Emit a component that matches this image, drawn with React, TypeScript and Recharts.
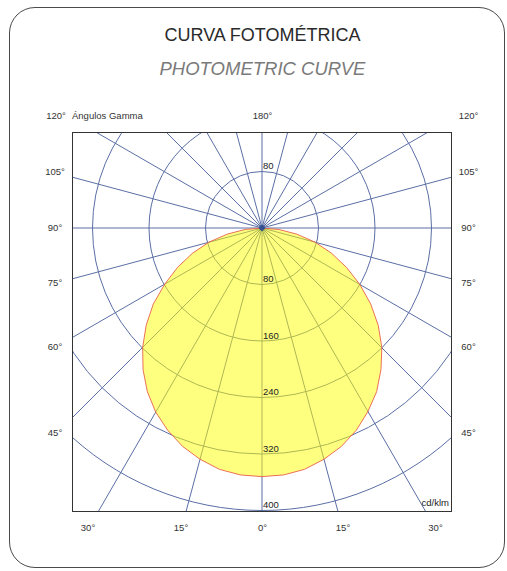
import { RadarChart, Radar, PolarGrid, PolarAngleAxis, PolarRadiusAxis } from "recharts";

// gamma angles (deg) and luminous intensity (cd/klm), C0 = right half, C180 = left half
const GAMMA = [0, 5, 10, 15, 20, 25, 30, 35, 40, 45, 50, 55, 60, 65, 70, 75, 80, 85, 90, 95, 100, 105, 110, 115, 120, 125, 130, 135, 140, 145, 150, 155, 160, 165, 170, 175, 180];
const C0 = [352, 351, 347, 339, 329, 316, 300, 283, 262, 240, 215, 188, 160, 132, 105, 78, 50, 24, 0, 0, 0, 0, 0, 0, 0, 0, 0, 0, 0, 0, 0, 0, 0, 0, 0, 0, 0];
const C180 = [352, 351, 347, 339, 329, 316, 301, 283, 262, 239, 214, 188, 159, 132, 105, 78, 50, 24, 0, 0, 0, 0, 0, 0, 0, 0, 0, 0, 0, 0, 0, 0, 0, 0, 0, 0, 0];

const RINGS = [80, 160, 240, 320, 400];
const SPOKES = [0, 15, 30, 45, 60, 75, 90, 105, 120, 135, 150, 165, 180, 195, 210, 225, 240, 255, 270, 285, 300, 315, 330, 345];
const SIDE_LABELS = ["120°", "105°", "90°", "75°", "60°", "45°"];
const BOTTOM_LABELS = ["30°", "15°", "0°", "15°", "30°"];
const TOP_LABEL = "180°";
const AXIS_TITLE = "Ángulos Gamma";
const UNIT = "cd/klm";

const R_MAX = 480;
const OUTER = 339; // px for R_MAX
const CX = 189;
const CY = 95;

// position on the circle, counter-clockwise from the bottom: C0 gamma g -> g, C180 gamma g -> 360 - g
const data = [
  ...GAMMA.map((g, i) => ({ pos: g, cd: C0[i] })),
  ...GAMMA.slice(1, -1).reverse().map((g) => ({ pos: 360 - g, cd: C180[GAMMA.indexOf(g)] })),
];

const FONT = '"Liberation Sans", Arial, sans-serif';
const GRID = "#5b6fa6";
const SIDE_Y = [116, 172, 228, 283, 347, 433];
const BOTTOM_X = [88, 181, 262.5, 343, 435.5];

const label = (x: number, y: number) => ({
  position: "absolute" as const,
  left: x,
  top: y,
  transform: "translate(-50%, -50%)",
  fontSize: 9.5,
  lineHeight: 1,
  color: "#333",
  whiteSpace: "nowrap" as const,
});

const RingTick = (props: any) => {
  const { x, y, payload } = props;
  const v = payload?.value;
  if (!RINGS.includes(v)) return <g />;
  return (
    <g>
      <text x={x + 1} y={y - 2.5} fontSize={9.5} fontFamily={FONT} fill="#222" textAnchor="start">{v}</text>
      {v === RINGS[0] && (
        <text x={x + 1} y={2 * CY - y - 2.5} fontSize={9.5} fontFamily={FONT} fill="#222" textAnchor="start">{v}</text>
      )}
    </g>
  );
};

const CenterDot = (props: any) => {
  const { cx, cy, index } = props;
  if (index !== GAMMA.length - 1) return <g key={index} />;
  return <polygon key={index} points={`${cx},${cy - 3.5} ${cx + 3.5},${cy} ${cx},${cy + 3.5} ${cx - 3.5},${cy}`} fill="#34508e" />;
};

export default function App() {
  return (
    <div style={{ position: "absolute", left: 0, top: 0, width: 507, height: 571, background: "#fff", fontFamily: FONT, overflow: "hidden" }}>
      <div style={{ position: "absolute", left: 9, top: 7, width: 496, height: 561, border: "1px solid #4a4a4a", borderRadius: 26, boxSizing: "border-box" }} />

      <div style={{ position: "absolute", left: 0, width: 525, top: 25, textAlign: "center", fontSize: 18, color: "#2a2a2a" }}>CURVA FOTOMÉTRICA</div>
      <div style={{ position: "absolute", left: 0, width: 525, top: 58, textAlign: "center", fontSize: 18.5, fontStyle: "italic", color: "#7a7a7a" }}>PHOTOMETRIC CURVE</div>

      <div style={{ ...label(72, 116), transform: "translate(0, -50%)" }}>{AXIS_TITLE}</div>
      <div style={label(262.5, 116)}>{TOP_LABEL}</div>
      {SIDE_LABELS.map((t, i) => (
        <div key={"l" + i} style={label(i === 0 ? 56 : 55, SIDE_Y[i])}>{t}</div>
      ))}
      {SIDE_LABELS.map((t, i) => (
        <div key={"r" + i} style={label(468.5, SIDE_Y[i])}>{t}</div>
      ))}
      {BOTTOM_LABELS.map((t, i) => (
        <div key={"b" + i} style={label(BOTTOM_X[i], 528)}>{t}</div>
      ))}

      <div style={{ position: "absolute", left: 72, top: 132, width: 380, height: 380, border: "1px solid #333", boxSizing: "border-box", overflow: "hidden" }}>
        <RadarChart width={378} height={378} data={data} cx={CX} cy={CY} outerRadius={OUTER} startAngle={-90} endAngle={270} margin={{ top: 0, right: 0, bottom: 0, left: 0 }}>
          <PolarGrid
            gridType="circle"
            polarAngles={SPOKES.map((a) => a - 90)}
            polarRadius={RINGS.map((r) => (r / R_MAX) * OUTER)}
            stroke={GRID}
            strokeWidth={1}
          />
          <PolarAngleAxis dataKey="pos" type="number" domain={[0, 360]} tick={false} axisLine={false} tickLine={false} />
          <PolarRadiusAxis angle={-90} domain={[0, R_MAX]} tickCount={7} axisLine={false} tickLine={false} tick={RingTick} />
          <Radar dataKey="cd" fill="#ffff00" fillOpacity={0.5} stroke="#e8604a" strokeWidth={0.9} dot={CenterDot} isAnimationActive={false} />
        </RadarChart>
        <div style={{ position: "absolute", right: 2, bottom: 4, fontSize: 9.5, lineHeight: 1, color: "#222" }}>{UNIT}</div>
      </div>
    </div>
  );
}
